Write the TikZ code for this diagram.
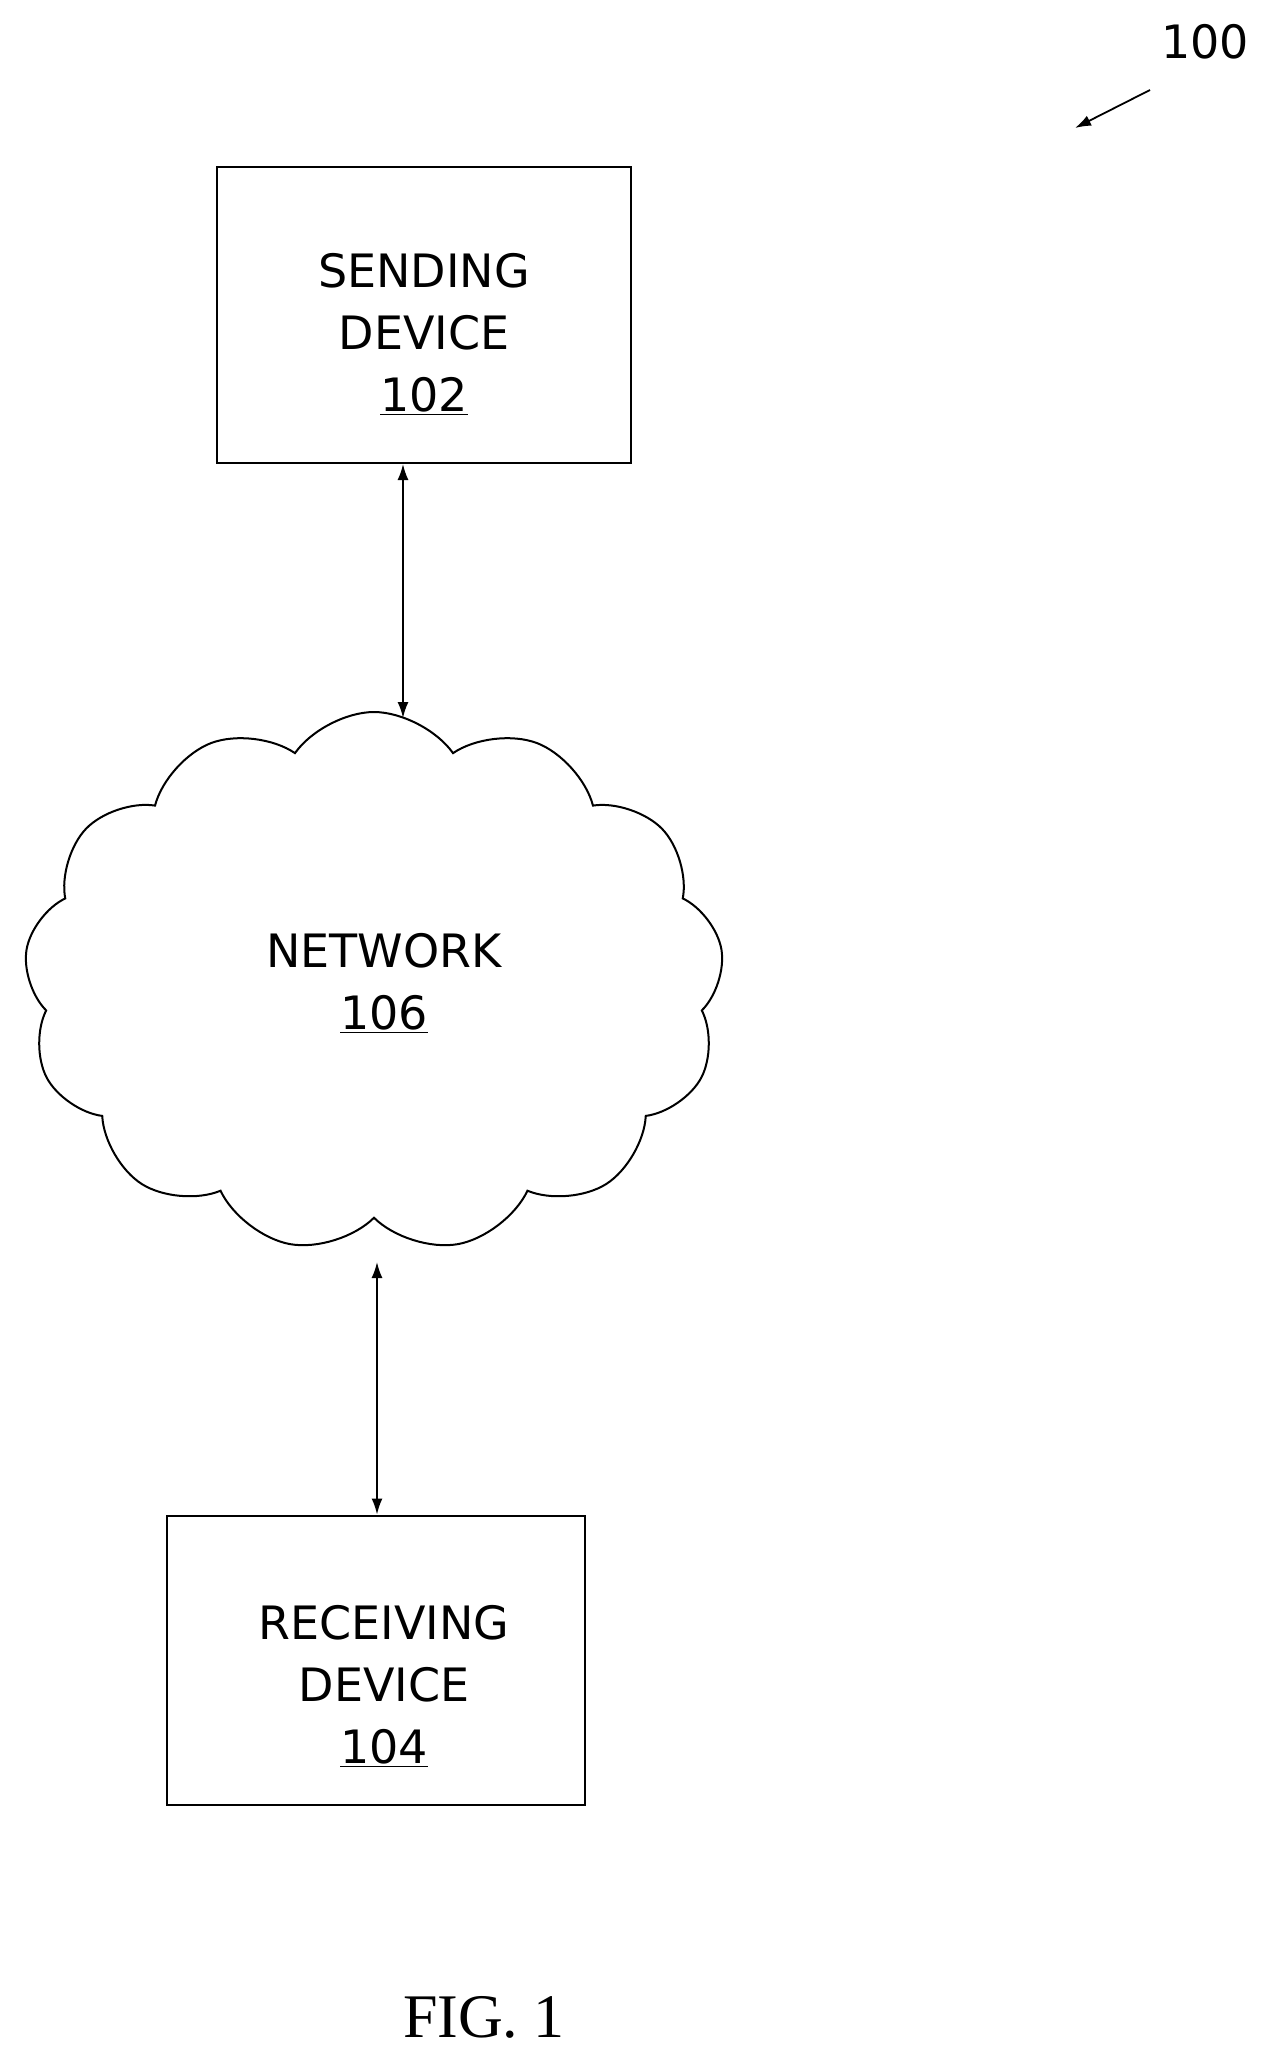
\documentclass[tikz,border=0pt]{standalone}
\usepackage{fontspec}
\setmainfont{DejaVu Sans}
\newfontfamily\serifft{Liberation Serif}
\usetikzlibrary{shapes.symbols,arrows.meta}
\begin{document}
\begin{tikzpicture}[x=1pt,y=-1pt,
  box/.style={draw,line width=2pt,inner sep=0pt},
  lbl/.style={font=\fontsize{46}{62}\selectfont,align=center},
  conn/.style={line width=1.8pt,{Latex[length=16pt,width=11pt]}-{Latex[length=16pt,width=11pt]}}]
\useasboundingbox (0,0) rectangle (1275,2061);
\node[box,minimum width=414pt,minimum height=296pt] (send) at (424,315) {};
\node[lbl] (sendt) at (424,334) {SENDING\\DEVICE\\\underline{102}};
\node[box,minimum width=418pt,minimum height=289pt] (recv) at (376,1660) {};
\node[lbl] (recvt) at (384,1686) {RECEIVING\\DEVICE\\\underline{104}};
\node[cloud,draw,line width=2pt,cloud puffs=13,cloud puff arc=110,aspect=1.3,minimum width=700pt,minimum height=540pt,inner sep=0pt] (net) at (374,982) {};
\node[lbl] (nett) at (384,983) {NETWORK\\\underline{106}};
\coordinate (n1) at (403,718);
\coordinate (n2) at (377,1262);
\draw[conn] (send.south -| n1) -- (n1);
\draw[conn] (n2) -- (recv.north -| n2);
\node[lbl] (ref) at (1205,42) {100};
\coordinate (rs) at (1150,90);
\draw[line width=1.8pt,-{Latex[length=16pt,width=11pt]}] (rs) -- (1075,128);
\node[font=\serifft\fontsize{62}{70}\selectfont] (fig) at (484,2017) {FIG. 1};
\end{tikzpicture}
\end{document}
